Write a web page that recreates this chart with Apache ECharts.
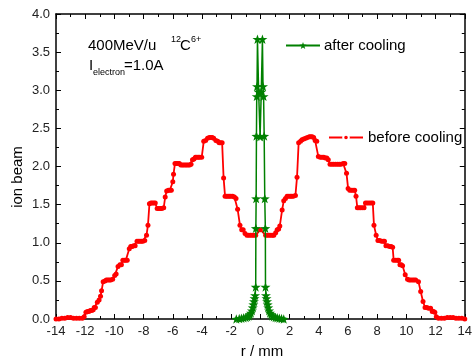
<!DOCTYPE html>
<html>
<head>
<meta charset="utf-8">
<script src="https://cdn.jsdelivr.net/npm/echarts@6/dist/echarts.min.js"></script>
<style>
  html, body { margin: 0; padding: 0; background: #fff; }
  #chart { width: 475px; height: 359px; }
</style>
</head>
<body>
<div id="chart"></div>
<script>
// axis ranges / ticks
const xTicks = [-14, 14, 2];
const yTicks = [0, 4, 0.5];

// before cooling: [r (mm), ion beam]
const beforeR = [
  -14.0, -13.8, -13.6, -13.4, -13.2, -13.0, -12.8, -12.6, -12.4, -12.2,
  -12.07, -11.95, -11.85, -11.75, -11.65, -11.55, -11.45, -11.38, -11.3, -11.17,
  -11.05, -10.95, -10.88, -10.77, -10.65, -10.55, -10.45, -10.35, -10.25, -10.12,
  -9.98, -9.88, -9.75, -9.62, -9.52, -9.42, -9.32, -9.22, -9.12, -8.98,
  -8.88, -8.78, -8.68, -8.58, -8.45, -8.35, -8.25, -8.15, -8.05, -7.92,
  -7.8, -7.7, -7.6, -7.5, -7.4, -7.3, -7.2, -7.07, -6.95, -6.85,
  -6.75, -6.62, -6.52, -6.42, -6.3, -6.2, -6.1, -6.0, -5.95, -5.85,
  -5.75, -5.65, -5.55, -5.45, -5.35, -5.25, -5.15, -5.05, -4.95, -4.85,
  -4.75, -4.65, -4.55, -4.45, -4.35, -4.25, -4.15, -4.02, -3.88, -3.75,
  -3.62, -3.5, -3.4, -3.3, -3.2, -3.05, -2.92, -2.82, -2.72, -2.62,
  -2.52, -2.42, -2.32, -2.22, -2.12, -2.02, -1.9, -1.78, -1.67, -1.56,
  -1.4, -1.28, -1.18, -1.05, -0.92, -0.8, -0.68, -0.56, -0.44, -0.32,
  0.0,
  0.36, 0.48, 0.6, 0.72, 0.84, 0.92, 1.05, 1.15, 1.25, 1.33,
  1.49, 1.6, 1.72, 1.83, 1.95, 2.05, 2.15, 2.25, 2.4, 2.51,
  2.62, 2.75, 2.85, 2.97, 3.1, 3.22, 3.35, 3.45, 3.55, 3.65,
  3.75, 3.86, 3.97, 4.1, 4.22, 4.34, 4.45, 4.55, 4.65, 4.77,
  4.9, 5.02, 5.15, 5.28, 5.4, 5.52, 5.67, 5.78, 5.9, 6.01,
  6.12, 6.24, 6.35, 6.46, 6.55, 6.64, 6.75, 6.85, 6.97, 7.1,
  7.2, 7.32, 7.45, 7.58, 7.7, 7.78, 7.93, 8.05, 8.17, 8.3,
  8.42, 8.5, 8.6, 8.72, 8.85, 8.95, 9.06, 9.13, 9.25, 9.37,
  9.47, 9.56, 9.65, 9.74, 9.92, 10.08, 10.19, 10.3, 10.42, 10.53,
  10.64, 10.83, 10.98, 11.14, 11.28, 11.4, 11.52, 11.66, 11.77, 11.86,
  11.95, 12.05, 12.2, 12.4, 12.6, 12.8, 13.0, 13.2, 13.4, 13.6,
  13.8, 14.0
];
const beforeV = [
  0.00, 0.00, 0.01, 0.01, 0.02, 0.02, 0.01, 0.01, 0.01, 0.01,
  0.03, 0.09, 0.10, 0.10, 0.11, 0.11, 0.12, 0.15, 0.15, 0.22,
  0.25, 0.30, 0.37, 0.49, 0.50, 0.51, 0.51, 0.51, 0.51, 0.52,
  0.57, 0.59, 0.69, 0.71, 0.71, 0.77, 0.77, 0.77, 0.77, 0.92,
  0.95, 0.95, 0.96, 0.96, 1.02, 1.02, 1.02, 1.02, 1.02, 1.03,
  1.10, 1.23, 1.51, 1.52, 1.52, 1.52, 1.52, 1.45, 1.45, 1.45,
  1.45, 1.46, 1.60, 1.68, 1.69, 1.69, 1.69, 1.80, 1.90, 2.04,
  2.04, 2.04, 2.04, 2.02, 2.02, 2.02, 2.02, 2.02, 2.02, 2.02,
  2.03, 2.09, 2.10, 2.12, 2.12, 2.12, 2.12, 2.12, 2.33, 2.34,
  2.37, 2.38, 2.38, 2.38, 2.37, 2.34, 2.33, 2.31, 2.31, 2.31,
  1.85, 1.61, 1.61, 1.61, 1.61, 1.61, 1.61, 1.60, 1.58, 1.44,
  1.23, 1.17, 1.17, 1.12, 1.10, 1.10, 1.10, 1.10, 1.10, 1.10,
  1.17,
  1.10, 1.10, 1.10, 1.10, 1.10, 1.10, 1.13, 1.17, 1.18, 1.22,
  1.43, 1.55, 1.58, 1.61, 1.61, 1.61, 1.61, 1.61, 1.62, 1.86,
  2.31, 2.33, 2.35, 2.36, 2.37, 2.38, 2.39, 2.39, 2.39, 2.38,
  2.34, 2.33, 2.13, 2.12, 2.12, 2.12, 2.11, 2.11, 2.09, 2.03,
  2.03, 2.03, 2.03, 2.03, 2.03, 2.03, 2.04, 2.04, 1.91, 1.71,
  1.69, 1.69, 1.69, 1.69, 1.61, 1.46, 1.46, 1.46, 1.46, 1.46,
  1.52, 1.52, 1.52, 1.52, 1.52, 1.23, 1.10, 1.03, 1.03, 1.02,
  1.02, 1.02, 0.96, 0.96, 0.95, 0.95, 0.94, 0.77, 0.77, 0.77,
  0.77, 0.71, 0.71, 0.70, 0.58, 0.52, 0.51, 0.51, 0.51, 0.51,
  0.51, 0.49, 0.36, 0.23, 0.15, 0.15, 0.14, 0.14, 0.10, 0.10,
  0.09, 0.03, 0.01, 0.01, 0.01, 0.02, 0.02, 0.02, 0.01, 0.01,
  0.01, 0.00
];

// after cooling: [r (mm), ion beam]
const afterR = [
  -1.65, -1.45, -1.3, -1.15, -1.0, -0.9, -0.8, -0.72, -0.65, -0.58,
  -0.52, -0.48, -0.44, -0.4, -0.36, -0.32, -0.31, -0.29, -0.27, -0.25,
  -0.23, -0.2, -0.12, -0.02, 0.06, 0.14, 0.18, 0.22, 0.26, 0.3,
  0.34, 0.35, 0.38, 0.42, 0.46, 0.5, 0.54, 0.6, 0.66, 0.74,
  0.82, 0.92, 1.04, 1.16, 1.3, 1.45, 1.6
];
const afterV = [
  0.00, 0.005, 0.01, 0.015, 0.02, 0.03, 0.04, 0.06, 0.08, 0.11,
  0.15, 0.19, 0.23, 0.27, 0.31, 0.42, 1.19, 1.58, 2.40, 2.92,
  3.05, 3.67, 2.98, 2.39, 2.98, 3.67, 3.05, 2.92, 2.40, 1.58,
  1.19, 0.42, 0.31, 0.27, 0.23, 0.19, 0.15, 0.11, 0.08, 0.06,
  0.04, 0.03, 0.02, 0.015, 0.01, 0.005, 0.00
];

const FONT = "Liberation Sans";
const STAR = "path://M0,-10L2.35,-3.24L9.51,-3.09L3.8,1.24L5.88,8.09L0,4L-5.88,8.09L-3.8,1.24L-9.51,-3.09L-2.35,-3.24Z";

const zip = (a, b) => a.map((v, i) => [v, b[i]]);

// shared axis look: black line, inward ticks with one minor between majors
const frameAxis = (extra) => Object.assign({
  type: "value",
  axisLine: { show: true, onZero: false, lineStyle: { color: "#000", width: 1.5 } },
  axisTick: { show: true, inside: true, length: 5, lineStyle: { color: "#000", width: 1 } },
  minorTick: { show: true, splitNumber: 2, length: 3, lineStyle: { color: "#000", width: 1 } },
  splitLine: { show: false },
}, extra);

const chart = echarts.init(document.getElementById("chart"), null, { renderer: "canvas" });

chart.setOption({
  animation: false,
  backgroundColor: "#fff",
  grid: { left: 56, right: 6, top: 14, bottom: 40, containLabel: false },
  xAxis: [
    frameAxis({
      position: "bottom", min: xTicks[0], max: xTicks[1], interval: xTicks[2],
      axisLabel: { margin: 6, color: "#222", fontSize: 13, fontFamily: FONT },
    }),
    frameAxis({
      position: "top", min: xTicks[0], max: xTicks[1], interval: xTicks[2],
      axisLabel: { show: false },
    }),
  ],
  yAxis: [
    frameAxis({
      position: "left", min: yTicks[0], max: yTicks[1], interval: yTicks[2],
      axisLabel: { margin: 6, color: "#222", fontSize: 13, fontFamily: FONT,
        formatter: (v) => v.toFixed(1) },
    }),
    frameAxis({
      position: "right", min: yTicks[0], max: yTicks[1], interval: yTicks[2],
      axisLabel: { show: false },
    }),
  ],
  legend: [
    {
      data: ["after cooling"], left: 285, top: 38, padding: 0,
      itemWidth: 34, itemHeight: 9, itemGap: 0,
      textStyle: { fontSize: 15, fontFamily: FONT, color: "#000", padding: [0, 0, 0, -1] },
    },
    {
      data: ["before cooling"], left: 328, top: 130, padding: 0,
      itemWidth: 34, itemHeight: 7, itemGap: 0,
      itemStyle: { borderColor: "#fff", borderWidth: 2 },
      textStyle: { fontSize: 15, fontFamily: FONT, color: "#000" },
    },
  ],
  // annotation text, axis titles
  graphic: [
    { type: "text", left: 88, top: 38, style: { text: "400MeV/u", font: `15px "${FONT}"`, fill: "#000" } },
    { type: "text", left: 171, top: 35, style: { text: "12", font: `9px "${FONT}"`, fill: "#000" } },
    { type: "text", left: 180, top: 38, style: { text: "C", font: `15px "${FONT}"`, fill: "#000" } },
    { type: "text", left: 191, top: 35, style: { text: "6+", font: `9px "${FONT}"`, fill: "#000" } },
    { type: "text", left: 89, top: 58, style: { text: "I", font: `15px "${FONT}"`, fill: "#000" } },
    { type: "text", left: 93, top: 68, style: { text: "electron", font: `9px "${FONT}"`, fill: "#000" } },
    { type: "text", left: 124, top: 58, style: { text: "=1.0A", font: `15px "${FONT}"`, fill: "#000" } },
    { type: "text", x: 18, y: 177, rotation: Math.PI / 2,
      style: { text: "ion beam", font: `15px "${FONT}"`, fill: "#000", align: "center", verticalAlign: "middle" } },
    { type: "text", x: 262, y: 352,
      style: { text: "r / mm", font: `15px "${FONT}"`, fill: "#000", align: "center", verticalAlign: "middle" } },
  ],
  series: [
    {
      name: "before cooling",
      type: "line",
      data: zip(beforeR, beforeV),
      symbol: "circle",
      symbolSize: 5,
      showAllSymbol: true,
      lineStyle: { color: "#ff0000", width: 1.8 },
      itemStyle: { color: "#ff0000" },
      z: 2,
    },
    {
      name: "after cooling",
      type: "line",
      data: zip(afterR, afterV),
      symbol: STAR,
      symbolKeepAspect: true,
      symbolSize: 10,
      showAllSymbol: true,
      lineStyle: { color: "#008000", width: 1.5 },
      itemStyle: { color: "#008000" },
      z: 3,
    },
  ],
});
</script>
</body>
</html>
